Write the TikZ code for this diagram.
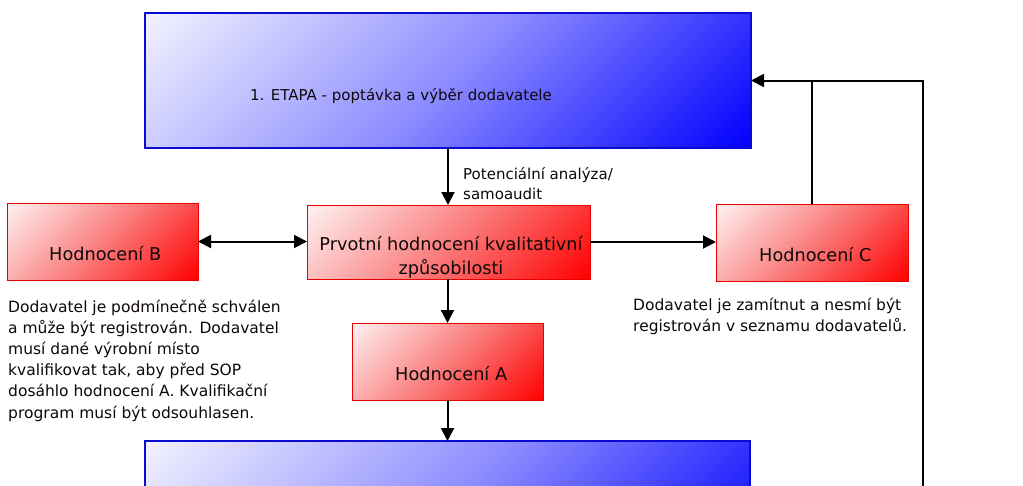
\documentclass[tikz,border=0pt]{standalone}
\usepackage{fontspec}
\setmainfont{DejaVu Sans}
\usetikzlibrary{arrows.meta}
\definecolor{bluelt}{RGB}{242,242,255}
\definecolor{bluemd}{RGB}{140,140,255}
\definecolor{bluedk}{RGB}{0,0,255}
\definecolor{blueln}{RGB}{10,10,210}
\definecolor{redlt}{RGB}{255,242,242}
\definecolor{redmd}{RGB}{250,125,125}
\definecolor{reddk}{RGB}{255,0,0}
\definecolor{redln}{RGB}{230,0,0}
\definecolor{txt}{RGB}{15,8,8}
\pgfdeclareverticalshading{bluediag}{100bp}{color(0bp)=(bluedk); color(14.6bp)=(bluedk); color(50bp)=(bluemd); color(85.4bp)=(bluelt); color(100bp)=(bluelt)}
\pgfdeclareverticalshading{reddiag}{100bp}{color(0bp)=(reddk); color(14.6bp)=(reddk); color(50bp)=(redmd); color(85.4bp)=(redlt); color(100bp)=(redlt)}
\begin{document}
\begin{tikzpicture}[x=1pt,y=-1pt,
  bluebox/.style={draw=blueln, line width=1.2pt, shade, shading=bluediag, shading angle=45, inner sep=0pt, outer sep=0pt, anchor=north west},
  redbox/.style={draw=redln, line width=1pt, shade, shading=reddiag, shading angle=45, inner sep=0pt, outer sep=0pt, anchor=north west},
  boxlabel/.style={font=\fontsize{17.7}{24}\selectfont, text=txt, inner sep=0pt},
  desc/.style={font=\fontsize{15.5}{21.2}\selectfont, text=txt, inner sep=0pt, align=left},
  small/.style={font=\fontsize{15}{20.5}\selectfont, text=txt, inner sep=0pt, align=left},
  conn/.style={line width=2pt, draw=black},
  arr/.style={conn, -{Triangle[length=13pt,width=13pt]}},
  darr/.style={conn, {Triangle[length=13pt,width=13pt]}-{Triangle[length=13pt,width=13pt]}}
]
\useasboundingbox (0,0) rectangle (1023,485);
\clip (0,0) rectangle (1023,485);
\fill[white] (0,0) rectangle (1023,485);

% boxes
\node[bluebox, minimum width=606pt, minimum height=135pt] (e1) at (145,13) {};
\node[bluebox, minimum width=605pt, minimum height=135pt] (e2) at (145,441) {};
\node[redbox, minimum width=283pt, minimum height=74pt] (pr) at (307,205) {};
\node[redbox, minimum width=191pt, minimum height=77pt] (hb) at (7,203) {};
\node[redbox, minimum width=192pt, minimum height=77pt] (hc) at (716,204) {};
\node[redbox, minimum width=191pt, minimum height=77pt] (ha) at (352,323) {};

% labels in boxes
\node[small, anchor=base west] (t1) at (250,100.5) {1. ETAPA - poptávka a výběr dodavatele};
\node[boxlabel, anchor=base west] (tb) at (49,260) {Hodnocení B};
\node[boxlabel, anchor=base west] (tc) at (759,261) {Hodnocení C};
\node[boxlabel, anchor=base west] (ta) at (395,380) {Hodnocení A};
\node[boxlabel, align=center, anchor=base] (tp) at (451,274) {Prvotní hodnocení kvalitativní\\způsobilosti};

% free texts
\node[small, anchor=base west] (pa) at (463,199.5) {Potenciální analýza/\\samoaudit};
\node[desc, anchor=base west] (db) at (8,418) {Dodavatel je podmínečně schválen\\a může být registrován. Dodavatel\\musí dané výrobní místo\\kvalifikovat tak, aby před SOP\\dosáhlo hodnocení A. Kvalifikační\\program musí být odsouhlasen.};
\node[desc, anchor=base west] (dc) at (633,331.5) {Dodavatel je zamítnut a nesmí být\\registrován v seznamu dodavatelů.};

% connectors
\coordinate (rb) at (923,490);
\draw[arr] (e1.south) -- (e1.south |- pr.north);
\draw[darr] (hb.east) -- (hb.east -| pr.west);
\draw[arr] (pr.east) -- (pr.east -| hc.west);
\draw[arr] (pr.south -| ha.north) -- (ha.north);
\draw[arr] (ha.south) -- (ha.south |- e2.north);
\draw[arr] (hc.north) |- (e1.east);
\draw[conn] (rb) |- (hc.north |- e1.east);
\end{tikzpicture}
\end{document}
